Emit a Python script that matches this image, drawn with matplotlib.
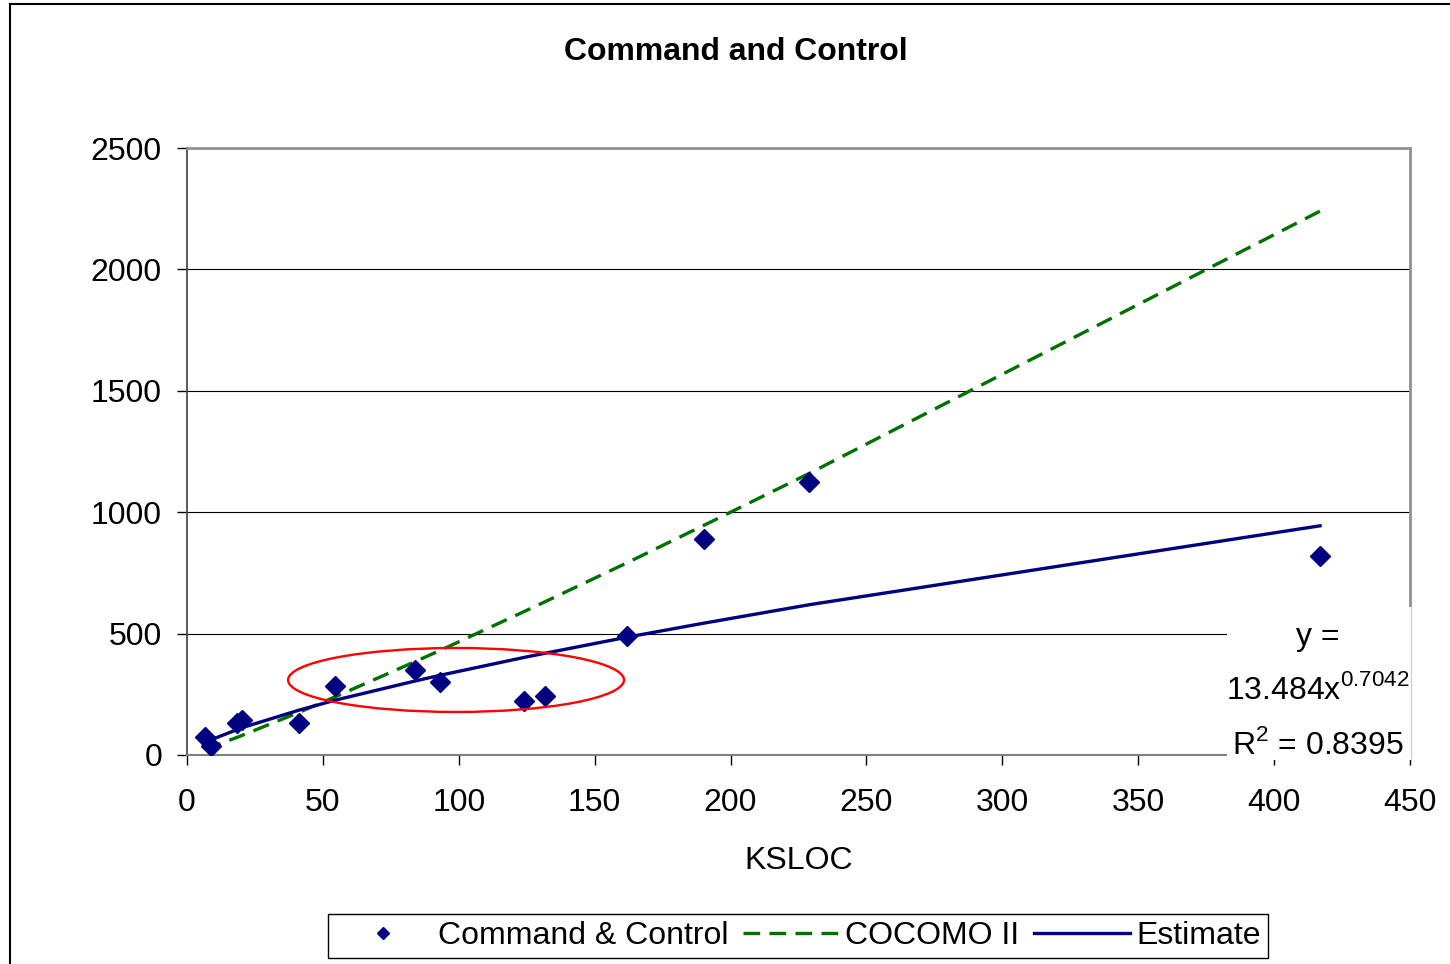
import matplotlib
matplotlib.use("Agg")
import matplotlib.pyplot as plt
from matplotlib.patches import Ellipse, Rectangle
from matplotlib.lines import Line2D

plt.rcParams['font.family'] = ['Liberation Sans', 'DejaVu Sans']

# ---- data ----
ksloc = [6.6, 8.7, 18.5, 20.1, 41.3, 54.6, 84.0, 93.0, 124.1, 131.7, 161.8, 190.2, 229.0, 416.9]
effort = [73, 37, 130, 144, 130, 284, 350, 301, 224, 241, 490, 890, 1124, 820]
cocomo = [23, 32, 73, 80, 176, 240, 385, 430, 591, 631, 791, 946, 1160, 2240]
estimate = [51, 62, 105, 112, 185, 226, 305, 328, 402, 419, 485, 543, 619, 944]

title = "Command and Control"
xlabel = "KSLOC"
series_names = ["Command & Control", "COCOMO II", "Estimate"]
eq_lines = ["y =", r"13.484x$^{\mathregular{0.7042}}$", r"R$^{\mathregular{2}}$ = 0.8395"]
xticks = list(range(0, 451, 50))
yticks = list(range(0, 2501, 500))

# highlight ellipse (data coords): center x, center y, width, height
ell_cx, ell_cy, ell_w, ell_h = 99.0, 309.0, 123.6, 263.6

W, H = 1450, 964
FS = 23
fig = plt.figure(figsize=(W / 100, H / 100), dpi=100)
fig.patch.set_facecolor('white')

# outer chart border (left + top visible)
fig.add_artist(Line2D([10 / W, 10 / W], [0, 1 - 4 / H], color='black', lw=1.5, transform=fig.transFigure))
fig.add_artist(Line2D([10 / W, 1], [1 - 4 / H, 1 - 4 / H], color='black', lw=1.5, transform=fig.transFigure))

ax = fig.add_axes([187 / W, 1 - 755 / H, (1410 - 187) / W, (755 - 148) / H])

navy = '#000080'
green = '#007000'

ax.plot(ksloc, cocomo, color=green, lw=2.4, dashes=(5.0, 2.8), zorder=3, label=series_names[1])
ax.plot(ksloc, estimate, color=navy, lw=2.4, zorder=4, label=series_names[2])
ax.plot(ksloc, effort, linestyle='none', marker='D', markersize=10.5, color=navy, zorder=5,
        label=series_names[0])

ax.add_patch(Ellipse((ell_cx, ell_cy), ell_w, ell_h, fill=False, edgecolor='red', lw=1.7, zorder=6))

ax.set_xlim(0, 450)
ax.set_ylim(0, 2500)
ax.set_xticks(xticks)
ax.set_yticks(yticks)
ax.set_xticklabels([str(t) for t in xticks], fontsize=FS)
ax.set_yticklabels([str(t) for t in yticks], fontsize=FS)
ax.tick_params(axis='x', direction='out', length=7, width=1, pad=17, colors='black')
ax.tick_params(axis='y', direction='out', length=7, width=1, pad=11, colors='black')
ax.grid(axis='y', color='black', lw=0.8)
ax.set_axisbelow(True)
ax.spines['left'].set_color('#404040')
ax.spines['left'].set_linewidth(1.2)
ax.spines['bottom'].set_color('#808080')
ax.spines['bottom'].set_linewidth(1.5)
for s in ['top', 'right']:
    ax.spines[s].set_color('#909090')
    ax.spines[s].set_linewidth(2)

ax.set_xlabel(xlabel, fontsize=FS, labelpad=20)
fig.text(736 / W, 1 - 52 / H, title, fontsize=FS, fontweight='bold', ha='center', va='center')

# equation text box
fig.add_artist(Rectangle((1227 / W, 1 - 760 / H), (1411 - 1227) / W, (760 - 607) / H,
                         transform=fig.transFigure, facecolor='white', edgecolor='none', zorder=10))
fig.add_artist(Line2D([1411 / W, 1411 / W], [1 - 757 / H, 1 - 607 / H], color='#d0d0d0', lw=1,
                      transform=fig.transFigure, zorder=11))
for txt, yp in zip(eq_lines, [637, 690, 745]):
    fig.text(1318 / W, 1 - yp / H, txt, fontsize=FS, ha='center', va='center', zorder=12)

handles, labels = ax.get_legend_handles_labels()
order = [2, 0, 1]
leg = fig.legend([handles[i] for i in order], [labels[i] for i in order], loc='center',
                 bbox_to_anchor=(798 / W, 1 - 936 / H), ncol=3, fontsize=FS, frameon=True,
                 fancybox=False, edgecolor='black', framealpha=1, handlelength=3.0,
                 handletextpad=0.22, columnspacing=0.45, borderpad=0.22, markerscale=0.55)
leg.get_frame().set_linewidth(1)

fig.savefig('out.png', dpi=100, facecolor='white')
